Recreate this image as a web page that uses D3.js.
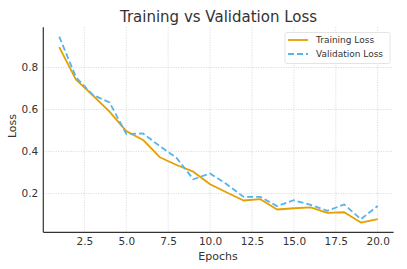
<!DOCTYPE html>
<html>
<head>
<meta charset="utf-8">
<script src="https://cdn.jsdelivr.net/npm/d3@7.9.0/dist/d3.min.js"></script>
<style>
  body { margin: 0; background: #fff; }
  svg { display: block; font-family: "DejaVu Sans", sans-serif; }
</style>
</head>
<body>
<svg id="chart" width="407" height="269"></svg>
<script>
// data
const epochs = d3.range(1, 21);
const trainLoss = [0.897, 0.742, 0.668, 0.590, 0.497, 0.455, 0.373, 0.336, 0.304, 0.244,
                   0.205, 0.167, 0.173, 0.124, 0.130, 0.134, 0.108, 0.111, 0.062, 0.078];
const valLoss = [0.947, 0.754, 0.670, 0.634, 0.484, 0.486, 0.426, 0.370, 0.268, 0.296,
                 0.244, 0.184, 0.184, 0.140, 0.168, 0.146, 0.118, 0.148, 0.078, 0.141];
const xTicks = [2.5, 5, 7.5, 10, 12.5, 15, 17.5, 20];
const yTicks = [0.2, 0.4, 0.6, 0.8];
const seriesNames = ["Training Loss", "Validation Loss"];

const svg = d3.select("#chart");
const margin = { left: 43.3, right: 13.4, top: 27.3, bottom: 36.7 };
const W = 407, H = 269;

// matplotlib style 5% margins around the data
const x = d3.scaleLinear().domain([0.05, 20.95]).range([margin.left, W - margin.right]);
const y = d3.scaleLinear().domain([0.0155, 0.9915]).range([H - margin.bottom, margin.top]);

const textColor = "#333";

// grid
svg.append("g").selectAll("line").data(xTicks).enter().append("line")
  .attr("x1", d => x(d)).attr("x2", d => x(d))
  .attr("y1", y.range()[1]).attr("y2", y.range()[0])
  .attr("stroke", "#ccc").attr("stroke-width", 0.8).attr("stroke-dasharray", "1,1.5");
svg.append("g").selectAll("line").data(yTicks).enter().append("line")
  .attr("x1", x.range()[0]).attr("x2", x.range()[1])
  .attr("y1", d => y(d)).attr("y2", d => y(d))
  .attr("stroke", "#ccc").attr("stroke-width", 0.8).attr("stroke-dasharray", "1,1.5");

// axes (no tick marks, just labels)
const xAxis = svg.append("g")
  .attr("transform", `translate(0,${H - margin.bottom})`)
  .call(d3.axisBottom(x).tickValues(xTicks).tickFormat(d3.format(".1f")).tickSize(0).tickPadding(5));
const yAxis = svg.append("g")
  .attr("transform", `translate(${margin.left},0)`)
  .call(d3.axisLeft(y).tickValues(yTicks).tickFormat(d3.format(".1f")).tickSize(0).tickPadding(5));

[xAxis, yAxis].forEach(ax => {
  ax.select(".domain").attr("stroke", textColor).attr("stroke-width", 1.2);
  ax.selectAll("text").attr("fill", textColor).style("font-size", "10.5px")
    .style("font-family", "DejaVu Sans, sans-serif");
});
// trim domain paths to plain spines
xAxis.select(".domain").attr("d", `M${x.range()[0]},0H${x.range()[1]}`);
yAxis.select(".domain").attr("d", `M0,${y.range()[0]}V${y.range()[1]}`);

// lines
const lineGen = d3.line().x((d, i) => x(epochs[i])).y(d => y(d));
svg.append("path").datum(trainLoss)
  .attr("d", lineGen)
  .attr("fill", "none").attr("stroke", "#E69F00").attr("stroke-width", 1.8)
  .attr("stroke-linejoin", "round");
svg.append("path").datum(valLoss)
  .attr("d", lineGen)
  .attr("fill", "none").attr("stroke", "#56B4E9").attr("stroke-width", 1.8)
  .attr("stroke-dasharray", "6,3");

// title and axis labels
svg.append("text").attr("x", 218.5).attr("y", 22)
  .attr("text-anchor", "middle").attr("fill", textColor)
  .style("font-size", "15px").text("Training vs Validation Loss");
svg.append("text").attr("x", 218).attr("y", 260)
  .attr("text-anchor", "middle").attr("fill", textColor)
  .style("font-size", "11px").text("Epochs");
svg.append("text").attr("transform", "translate(16,126) rotate(-90)")
  .attr("text-anchor", "middle").attr("fill", textColor)
  .style("font-size", "11px").text("Loss");

// legend
const legend = svg.append("g").attr("transform", "translate(285,32.5)");
legend.append("rect").attr("width", 105).attr("height", 31).attr("rx", 2)
  .attr("fill", "#fff").attr("fill-opacity", 0.8).attr("stroke", "#ddd").attr("stroke-width", 0.8);
const legendColors = ["#E69F00", "#56B4E9"];
const legendDash = [null, "6,3"];
seriesNames.forEach((name, i) => {
  const cy = 7.5 + i * 14;
  legend.append("line").attr("x1", 3).attr("x2", 23).attr("y1", cy).attr("y2", cy)
    .attr("stroke", legendColors[i]).attr("stroke-width", 1.8)
    .attr("stroke-dasharray", legendDash[i]);
  legend.append("text").attr("x", 31).attr("y", cy + 3.2)
    .attr("fill", textColor).style("font-size", "9px").text(name);
});
</script>
</body>
</html>
